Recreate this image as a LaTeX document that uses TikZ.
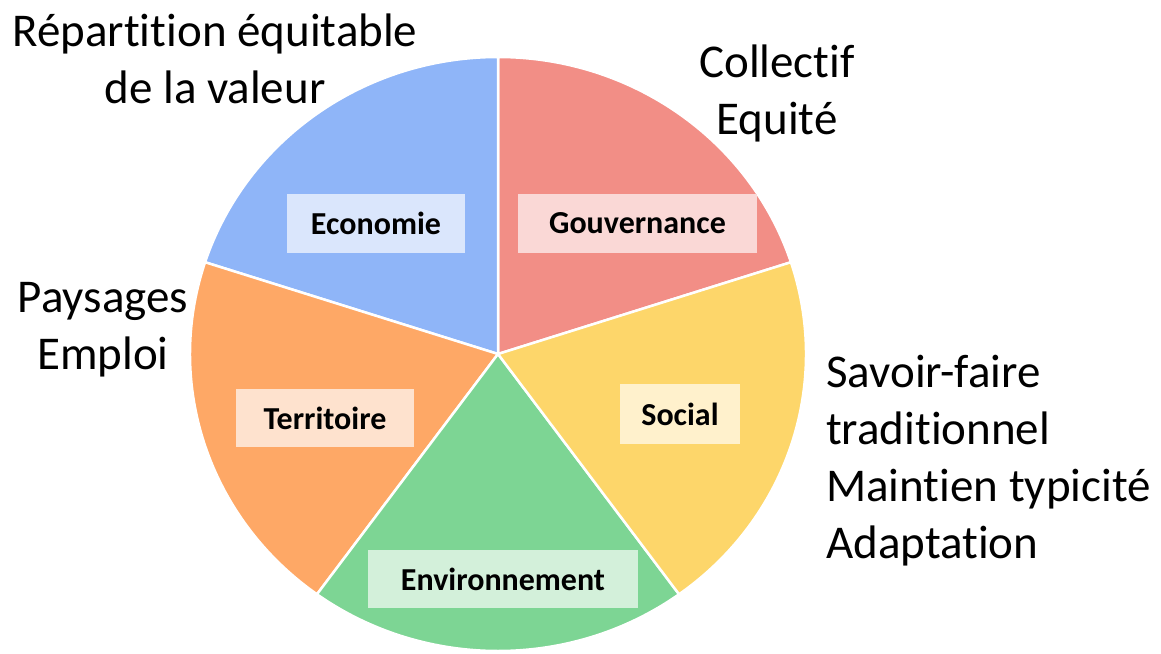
\documentclass[tikz,border=0pt]{standalone}
\usepackage{fontspec}
\setmainfont{Carlito}[Ligatures={NoCommon,NoRequired,NoContextual,NoRare}, Contextuals={NoAlternate}]
\definecolor{cRed}{HTML}{F28E86}
\definecolor{cRedL}{HTML}{FAD8D6}
\definecolor{cBlue}{HTML}{8FB5F8}
\definecolor{cBlueL}{HTML}{DAE6FC}
\definecolor{cOrange}{HTML}{FEA866}
\definecolor{cOrangeL}{HTML}{FEE2CE}
\definecolor{cGreen}{HTML}{7DD594}
\definecolor{cGreenL}{HTML}{D3F0DA}
\definecolor{cYellow}{HTML}{FDD66A}
\definecolor{cYellowL}{HTML}{FFF1CC}
\tikzset{
  slice/.style={draw=white, line width=2.5pt, line join=round},
  lab/.style={font=\bfseries\fontsize{32}{38}\selectfont, inner sep=0pt, text=black},
  outer/.style={font=\fontsize{47}{57}\selectfont, inner sep=0pt, anchor=base, text=black},
}
\begin{document}
\begin{tikzpicture}[x=1pt,y=-1pt]
\useasboundingbox (0,0) rectangle (1161,653);
\begin{scope}[shift={(498,354)}, x=308pt, y=297pt]
  \coordinate (c) at (0,0);
  \fill[cRed, slice] (c) -- (90:1) arc[start angle=90, end angle=18, radius=1] -- cycle;
  \fill[cBlue, slice] (c) -- (162:1) arc[start angle=162, end angle=90, radius=1] -- cycle;
  \fill[cOrange, slice] (c) -- (234:1) arc[start angle=234, end angle=162, radius=1] -- cycle;
  \fill[cGreen, slice] (c) -- (306:1) arc[start angle=306, end angle=234, radius=1] -- cycle;
  \fill[cYellow, slice] (c) -- (378:1) arc[start angle=378, end angle=306, radius=1] -- cycle;
\end{scope}
\node[lab, fill=cBlueL, minimum width=178pt, minimum height=59pt] (eco) at (376,223.5) {Economie};
\node[lab, fill=cRedL, minimum width=239pt, minimum height=59pt] (gov) at (637.5,223.5) {Gouvernance};
\node[lab, fill=cOrangeL, minimum width=178pt, minimum height=58pt] (ter) at (325,418) {Territoire};
\node[lab, fill=cYellowL, minimum width=120pt, minimum height=60pt] (soc) at (680,414) {Social};
\node[lab, fill=cGreenL, minimum width=270pt, minimum height=58pt] (env) at (503,579) {Environnement};
\node[outer] (rep1) at (215,46) {Répartition équitable};
\node[outer] (rep2) at (215,103) {de la valeur};
\node[outer] (col1) at (777,77) {Collectif};
\node[outer] (col2) at (777,134) {Equité};
\node[outer] (pay1) at (103,312) {Paysages};
\node[outer] (pay2) at (103,369) {Emploi};
\node[outer, anchor=base west] (sav1) at (826,387) {Savoir-faire};
\node[outer, anchor=base west] (sav2) at (826,444) {traditionnel};
\node[outer, anchor=base west] (sav3) at (826,501) {Maintien typicité};
\node[outer, anchor=base west] (sav4) at (826,558) {Adaptation};
\end{tikzpicture}
\end{document}
